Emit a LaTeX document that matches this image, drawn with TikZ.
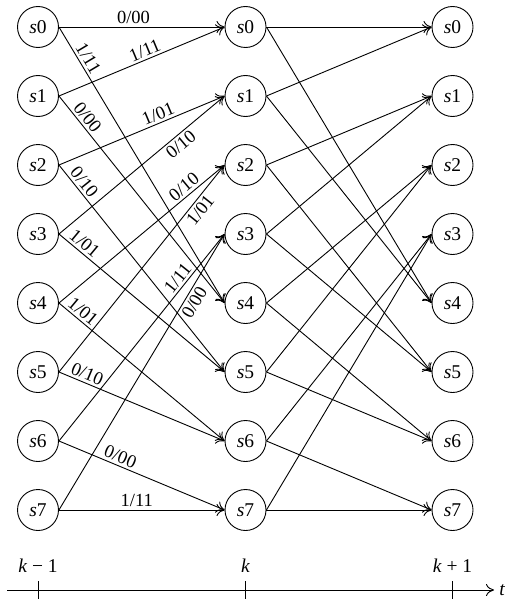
\documentclass[tikz,border=0pt]{standalone}
\usepackage{fontspec}
\setmainfont{Liberation Serif}
\usetikzlibrary{arrows.meta}
\begin{document}
\begin{tikzpicture}[x=1pt,y=-1pt,
  state/.style={circle,draw,line width=0.9pt,minimum size=41pt,inner sep=0pt,font=\fontsize{19.5}{22}\selectfont},
  tr/.style={line width=0.9pt,-{To[length=8pt,width=12pt]}},
  lab/.style={sloped,font=\fontsize{18.5}{22}\selectfont,inner sep=2.5pt},
  axlab/.style={font=\fontsize{19.5}{22}\selectfont,inner sep=0pt}
]
\useasboundingbox (0,0) rectangle (507,602);
\foreach \i in {0,...,7}{
  \node[state] (a\i) at (38,27+69*\i) {\textit{s}\i};
  \node[state] (b\i) at (245.5,27+69*\i) {\textit{s}\i};
  \node[state] (c\i) at (452.5,27+69*\i) {\textit{s}\i};
}
\draw[tr] (a0.east) -- node[lab,pos=0.45,above]{0/00} (b0.west);
\draw[tr] (a0.east) -- node[lab,pos=0.13,above]{1/11} (b4.west);
\draw[tr] (a1.east) -- node[lab,pos=0.54,above]{1/11} (b0.west);
\draw[tr] (a1.east) -- node[lab,pos=0.13,above]{0/00} (b4.west);
\draw[tr] (a2.east) -- node[lab,pos=0.62,above]{1/01} (b1.west);
\draw[tr] (a2.east) -- node[lab,pos=0.11,above]{0/10} (b5.west);
\draw[tr] (a3.east) -- node[lab,pos=0.70,below]{0/10} (b1.west);
\draw[tr] (a3.east) -- node[lab,pos=0.12,above]{1/01} (b5.west);
\draw[tr] (a4.east) -- node[lab,pos=0.79,above]{0/10} (b2.west);
\draw[tr] (a4.east) -- node[lab,pos=0.11,above]{1/01} (b6.west);
\draw[tr] (a5.east) -- node[lab,pos=0.81,below]{1/01} (b2.west);
\draw[tr] (a5.east) -- node[lab,pos=0.15,above]{0/10} (b6.west);
\draw[tr] (a6.east) -- node[lab,pos=0.76,above]{1/11} (b3.west);
\draw[tr] (a6.east) -- node[lab,pos=0.35,above]{0/00} (b7.west);
\draw[tr] (a7.east) -- node[lab,pos=0.77,below]{0/00} (b3.west);
\draw[tr] (a7.east) -- node[lab,pos=0.47,above]{1/11} (b7.west);
\foreach \i in {0,...,7}{
  \pgfmathtruncatemacro{\lo}{int(\i/2)}
  \pgfmathtruncatemacro{\hi}{int(\i/2)+4}
  \draw[tr] (b\i.east) -- (c\lo.west);
  \draw[tr] (b\i.east) -- (c\hi.west);
}
% time axis
\coordinate (axL) at (7,590);
\coordinate (axR) at (494,590);
\draw[tr] (axL) -- (axR) node[axlab,right=5pt] (tl) {\textit{t}};
\foreach \x/\n in {38/0,245.5/1,452.5/2}{
  \coordinate (tt\n) at (\x,581);
  \coordinate (tb\n) at (\x,599);
  \draw[line width=0.9pt] (tt\n) -- (tb\n);
}
\node[axlab] (k0) at (38,566) {\textit{k} − 1};
\node[axlab] (k1) at (245.5,566) {\textit{k}};
\node[axlab] (k2) at (452.5,566) {\textit{k} + 1};
\end{tikzpicture}
\end{document}
